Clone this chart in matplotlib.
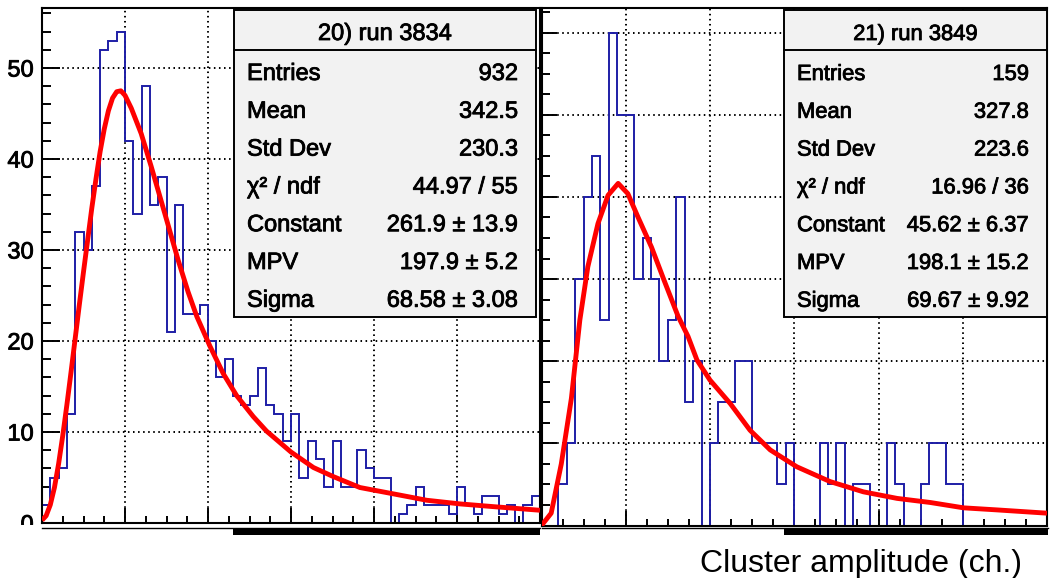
import numpy as np
import matplotlib
matplotlib.use("Agg")
import matplotlib.pyplot as plt
import matplotlib.patheffects as pe
from matplotlib.patches import Rectangle
from matplotlib.lines import Line2D
from matplotlib.ticker import MultipleLocator

plt.rcParams['font.family'] = ['Liberation Sans', 'DejaVu Sans']

# histogram: 60 bins of 20 ch. from 0 to 1200
bin_width = 20
n_bins = 60

left_counts = [2, 5, 6, 12, 32, 30, 37, 52, 53, 54,
               42, 34, 48, 35, 38, 21, 35, 23, 23, 24,
               20, 16, 18, 14, 13, 14, 17, 13, 12, 9,
               12, 5, 9, 7, 4, 9, 4, 4, 8, 6,
               5, 5, 0, 1, 2, 4, 2, 2, 2, 1,
               4, 2, 1, 3, 3, 1, 2, 0, 2, 3]

right_counts = [0, 0, 1, 2, 6, 8, 9, 5, 12, 10,
                10, 6, 7, 6, 4, 5, 8, 3, 4, 0,
                2, 3, 3, 4, 4, 2, 2, 2, 1, 2,
                0, 0, 0, 2, 1, 2, 0, 1, 1, 0,
                0, 2, 1, 0, 0, 1, 2, 2, 1, 1,
                0, 0, 0, 0, 0, 0, 0, 0, 0, 0]

# Landau fit curves
left_fit_x = [0, 10, 20, 30, 40, 50, 60, 70, 80, 90, 100, 110, 120, 130, 140,
              150, 160, 170, 180, 190, 200, 215, 239, 263, 296, 328, 352, 373,
              405, 437, 469, 509, 541, 600, 654, 702, 766, 847, 927, 1007,
              1087, 1200]
left_fit_y = [0.3, 0.8, 2.0, 3.9, 6.5, 9.6, 13.0, 16.6, 20.3, 24.0, 27.6, 31.1,
              34.6, 37.8, 40.8, 43.3, 45.3, 46.7, 47.4, 47.5, 47.0, 45.6, 42.8,
              39.2, 34.0, 28.9, 25.4, 22.7, 19.4, 16.4, 14.0, 11.7, 10.1, 7.8,
              6.1, 5.1, 3.9, 3.2, 2.5, 2.1, 1.8, 1.4]

right_fit_x = [0, 23, 47, 71, 91, 110, 134, 158, 182, 205, 229, 261, 291, 324,
               348, 369, 400, 448, 495, 543, 606, 685, 764, 844, 923, 1002,
               1081, 1200]
right_fit_y = [0.0, 0.3, 1.5, 3.1, 5.0, 6.3, 7.35, 8.04, 8.33, 8.08, 7.51,
               6.78, 5.97, 5.1, 4.6, 4.03, 3.54, 2.97, 2.32, 1.84, 1.43, 1.07,
               0.82, 0.66, 0.56, 0.43, 0.38, 0.30]

stat_labels = ['Entries', 'Mean', 'Std Dev', 'χ² / ndf', 'Constant', 'MPV', 'Sigma']
left_title = '20) run 3834'
left_stats = ['932', '342.5', '230.3', '44.97 / 55', '261.9 ± 13.9',
              '197.9 ± 5.2', '68.58 ± 3.08']
right_title = '21) run 3849'
right_stats = ['159', '327.8', '223.6', '16.96 / 36', '45.62 ± 6.37',
               '198.1 ± 15.2', '69.67 ± 9.92']

W, H = 1056, 578
HIST_COLOR = '#1e1ea6'
HEAVY = [pe.withStroke(linewidth=0.6, foreground='black')]


def fx(px):
    return px / W


def fy(py):
    return 1 - py / H


fig = plt.figure(figsize=(W / 100, H / 100), dpi=100)
edges = np.arange(n_bins + 1) * bin_width


def panel(x0, x1, ytop, ybot, counts, fitx, fity, ymax, ymaj, ymin, ylen, labels):
    ax = fig.add_axes([fx(x0), fy(ybot), (x1 - x0) / W, (ybot - ytop) / H])
    ax.stairs(counts, edges, baseline=0, color=HIST_COLOR, lw=1.4, zorder=2)
    ax.plot(fitx, fity, color='#ff0000', lw=3.5, solid_joinstyle='round',
            solid_capstyle='butt', zorder=3)
    ax.set_xlim(0, 1200)
    ax.set_ylim(0, ymax)
    ax.xaxis.set_major_locator(MultipleLocator(200))
    ax.xaxis.set_minor_locator(MultipleLocator(50))
    ax.yaxis.set_major_locator(MultipleLocator(ymaj))
    ax.yaxis.set_minor_locator(MultipleLocator(ymin))
    ax.set_axisbelow(True)
    ax.grid(True, which='major', color='black', linestyle=(0, (0.8, 1.8)), lw=1.4)
    ax.tick_params(which='both', direction='in', top=False, right=False,
                   labelbottom=False, width=1.4, color='black')
    ax.tick_params(axis='x', which='major', length=11)
    ax.tick_params(axis='x', which='minor', length=5)
    ax.tick_params(axis='y', which='major', length=ylen)
    ax.tick_params(axis='y', which='minor', length=ylen / 2)
    if labels:
        ax.tick_params(axis='y', labelsize=17, pad=6)
        ax.set_yticks(np.arange(0, 51, 10))
        ax.set_yticklabels([str(v) for v in range(0, 51, 10)])
        for t in ax.get_yticklabels():
            t.set_path_effects(HEAVY)
    else:
        ax.tick_params(axis='y', labelleft=False)
    for s in ax.spines.values():
        s.set_linewidth(1.5)
    return ax


panel(42, 540, 8, 523, left_counts, left_fit_x, left_fit_y, 56.6, 10, 2, 13, True)
panel(541.5, 1047, 8, 525.5, right_counts, right_fit_x, right_fit_y, 12.6, 2, 0.5, 11, False)

# white strip that clips the "0" label like the cropped original
fig.add_artist(Rectangle((0, 0), fx(41), fy(524.5), transform=fig.transFigure,
                         facecolor='white', edgecolor='none', zorder=5))

# top of the next row of pads, cut by the crop
for xa, xb in [(42, 540), (542, 1048)]:
    fig.add_artist(Line2D([fx(xa), fx(xb)], [fy(528), fy(528)], transform=fig.transFigure,
                          color='black', lw=1.0, zorder=6))
for xa, xb in [(233, 540), (784, 1048)]:
    fig.add_artist(Rectangle((fx(xa), fy(535)), (xb - xa) / W, 7 / H,
                             transform=fig.transFigure, facecolor='black',
                             edgecolor='none', zorder=6))


def stat_box(x0, x1, title, values, size):
    y0, y1, ysep = 10, 317, 50
    fig.add_artist(Rectangle((fx(x0), fy(y1)), (x1 - x0) / W, (y1 - y0) / H,
                             transform=fig.transFigure, facecolor='#f2f2f2',
                             edgecolor='black', lw=1.4, zorder=7))
    fig.add_artist(Line2D([fx(x0), fx(x1)], [fy(ysep), fy(ysep)],
                          transform=fig.transFigure, color='black', lw=1.4, zorder=8))
    fig.text(fx((x0 + x1) / 2), fy(40), title, ha='center', va='baseline',
             fontsize=size, zorder=9, path_effects=HEAVY)
    for i, (lab, val) in enumerate(zip(stat_labels, values)):
        yb = 80 + i * 37.8
        fig.text(fx(x0 + 13), fy(yb), lab, ha='left', va='baseline', fontsize=size,
                 zorder=9, path_effects=HEAVY)
        fig.text(fx(x1 - 18), fy(yb), val, ha='right', va='baseline', fontsize=size,
                 zorder=9, path_effects=HEAVY)


stat_box(234, 536, left_title, left_stats, 17)
stat_box(784, 1047, right_title, right_stats, 15.8)

fig.text(fx(1022), fy(572), 'Cluster amplitude (ch.)', ha='right', va='baseline',
         fontsize=23, zorder=9)

fig.savefig('out.png', dpi=100, facecolor='white')
